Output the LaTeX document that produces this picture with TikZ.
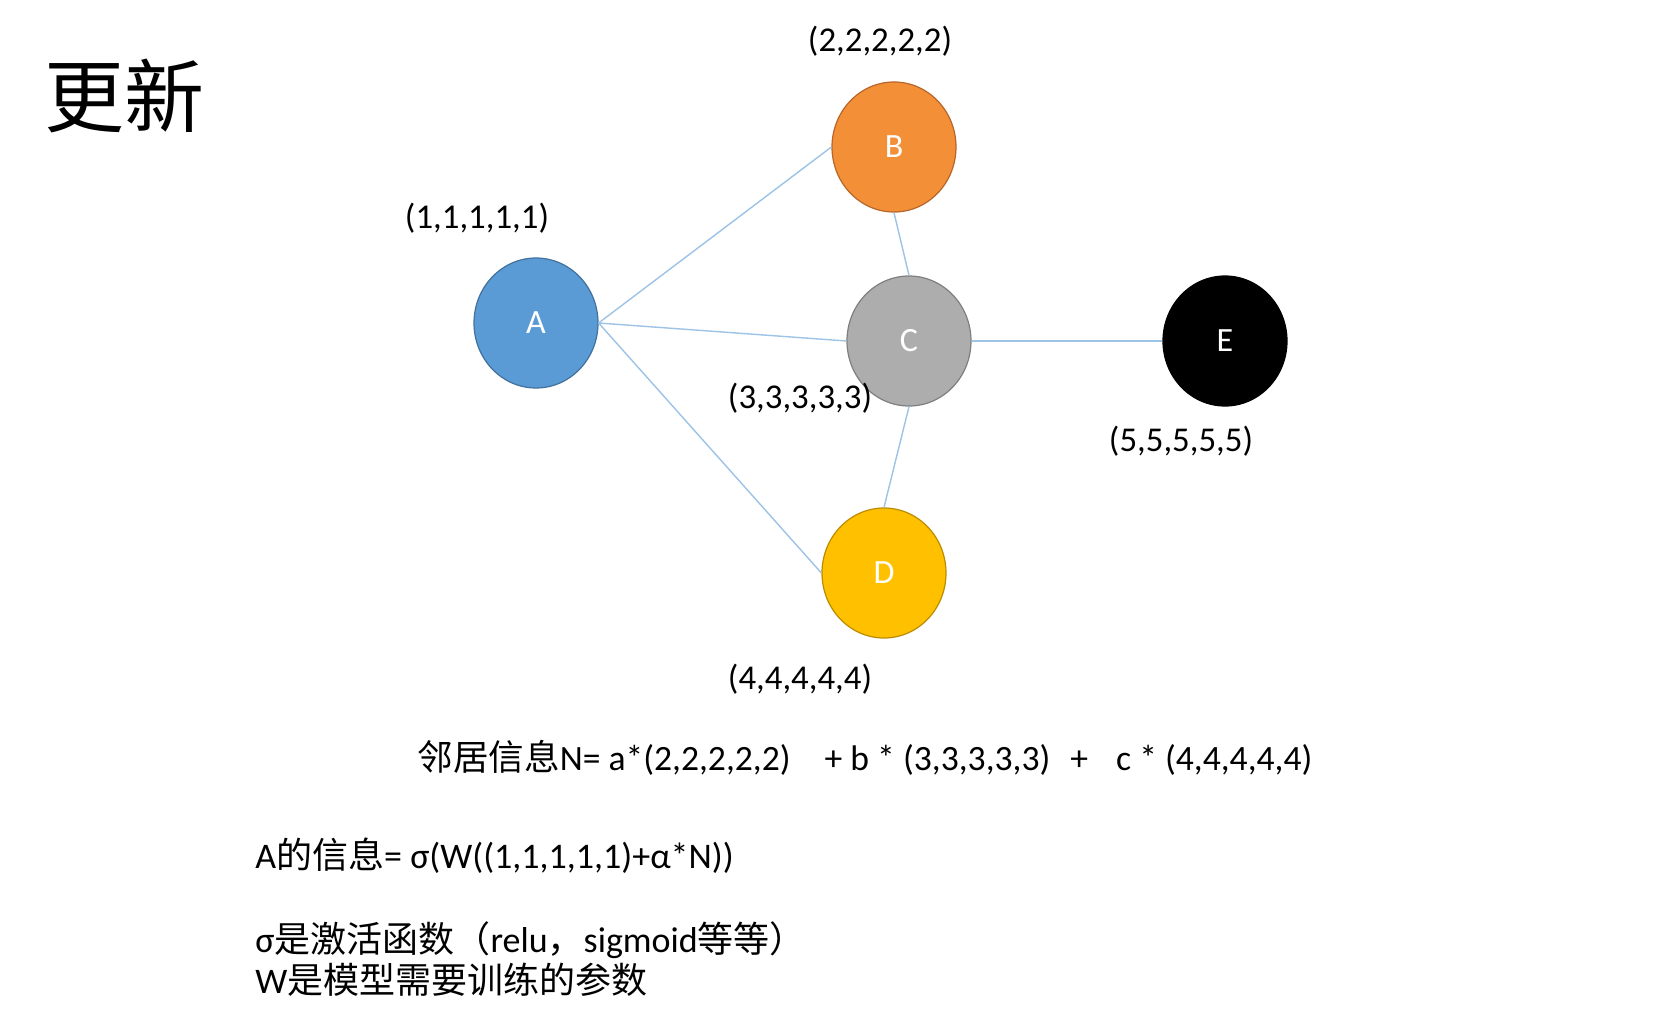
\documentclass[tikz,border=0pt]{standalone}
\usepackage{fontspec}
\setmainfont{Carlito}
\newfontfamily\cjk{Noto Sans CJK SC}
\usetikzlibrary{shapes.geometric}
\definecolor{edgeblue}{HTML}{9DC3E6}
\definecolor{fillA}{HTML}{5B9BD5}
\definecolor{lineA}{HTML}{41719C}
\definecolor{fillB}{HTML}{F38F36}
\definecolor{lineB}{HTML}{B8662A}
\definecolor{fillC}{HTML}{ADADAD}
\definecolor{lineC}{HTML}{7F7F7F}
\definecolor{fillD}{HTML}{FFC000}
\definecolor{lineD}{HTML}{BC8C00}
\begin{document}
\begin{tikzpicture}[x=0.5pt,y=-0.5pt,
  vnode/.style={ellipse, minimum width=62pt, minimum height=65pt, inner sep=0pt,
    line width=0.6pt, text=white, font=\fontsize{17}{20}\selectfont},
  vec/.style={font=\fontsize{17.4}{20}\selectfont, inner sep=0pt},
  link/.style={draw=edgeblue, line width=0.7pt},
  body/.style={font=\fontsize{18}{22}\selectfont, anchor=west, inner sep=0pt}]
\fill[white] (0,0) rectangle (1678,1018);
\useasboundingbox (0,0) rectangle (1678,1018);

\node[font=\cjk\fontsize{40}{48}\selectfont, inner sep=0pt] (title) at (125,96) {更新};

\node[vnode, fill=fillA, draw=lineA] (A) at (536,323) {A};
\node[vnode, fill=fillB, draw=lineB] (B) at (894,147) {B};
\node[vnode, fill=fillC, draw=lineC] (C) at (909,341) {C};
\node[vnode, fill=fillD, draw=lineD] (D) at (884,573) {D};
\node[vnode, fill=black, draw=black] (E) at (1225,341) {E};

\draw[link] (A.east) -- (B.west);
\draw[link] (A.east) -- (C.west);
\draw[link] (A.east) -- (D.west);
\draw[link] (B.south) -- (C.north);
\draw[link] (C.south) -- (D.north);
\draw[link] (C.east) -- (E.west);

\node[vec] (vB) at (880,41) {(2,2,2,2,2)};
\node[vec] (vA) at (477,218) {(1,1,1,1,1)};
\node[vec] (vC) at (800,398) {(3,3,3,3,3)};
\node[vec] (vE) at (1181,441) {(5,5,5,5,5)};
\node[vec] (vD) at (800,679) {(4,4,4,4,4)};

\node[body, font=\fontsize{17.8}{22}\selectfont] (neigh) at (417,758) {{\cjk 邻居信息}N=\hspace{4pt}a*(2,2,2,2,2)\hspace{17pt}+ b * (3,3,3,3,3)\hspace{10pt}+\hspace{14pt}c * (4,4,4,4,4)};
\node[body] (ainfo) at (255,856) {A{\cjk 的信息}= σ(W((1,1,1,1,1)+α*N))};
\node[body] (sigma) at (255,940) {σ{\cjk 是激活函数（}relu{\cjk ，}sigmoid{\cjk 等等）}};
\node[body] (wpar) at (255,980) {W{\cjk 是模型需要训练的参数}};
\end{tikzpicture}
\end{document}
